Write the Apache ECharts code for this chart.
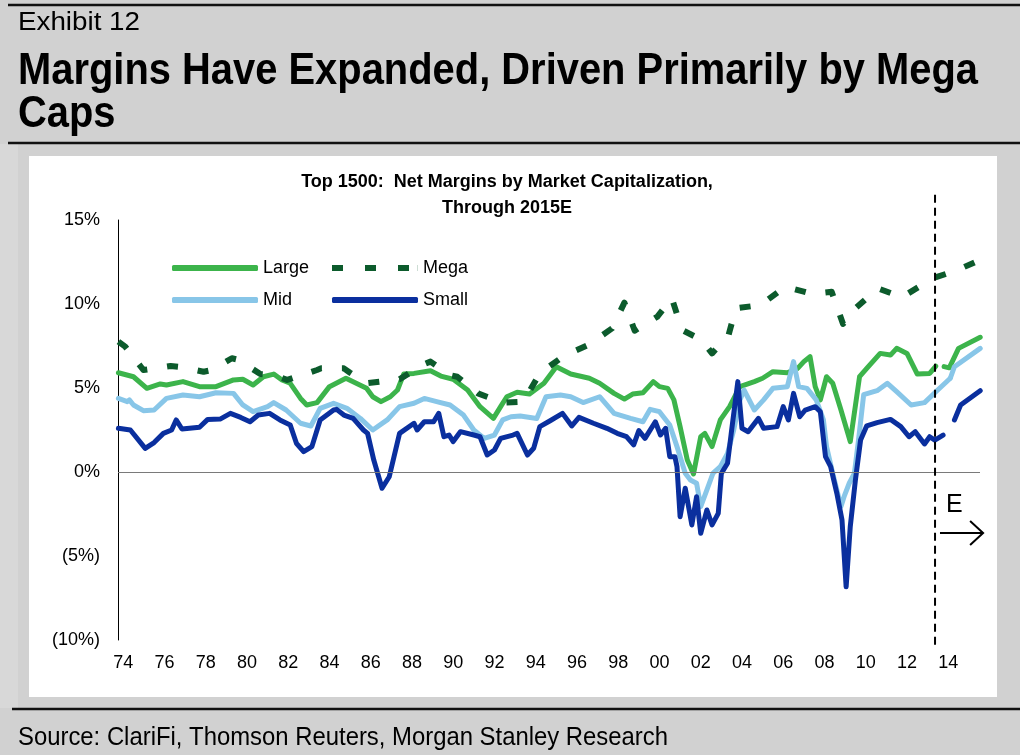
<!DOCTYPE html>
<html>
<head>
<meta charset="utf-8">
<script src="https://cdn.jsdelivr.net/npm/echarts@6/dist/echarts.min.js"></script>
<style>
html,body{margin:0;padding:0;background:#d1d1d1;}
#chart{width:1020px;height:755px;}
</style>
</head>
<body>
<div id="chart"></div>
<script>
// ---- data (year, % net margin) ----
const xTickYears = [1974,1976,1978,1980,1982,1984,1986,1988,1990,1992,1994,1996,1998,2000,2002,2004,2006,2008,2010,2012,2014];
const yTicks = [-10,-5,0,5,10,15];

const largeActual = [[1973.77,5.91],[1974.5,5.67],[1975.15,4.98],[1975.8,5.24],[1976.1,5.18],[1976.9,5.38],[1977.7,5.08],[1978.5,5.08],[1979.35,5.48],[1979.8,5.52],[1980.3,5.18],[1980.8,5.67],[1981.3,5.83],[1981.7,5.48],[1982.1,5.28],[1982.6,4.38],[1982.9,3.99],[1983.4,4.13],[1984.0,5.08],[1984.8,5.58],[1985.3,5.28],[1985.8,4.98],[1986.1,4.48],[1986.5,4.19],[1986.95,4.48],[1987.3,4.88],[1987.6,5.83],[1988.1,5.87],[1988.9,6.03],[1989.4,5.71],[1990.0,5.52],[1990.7,4.88],[1991.3,3.89],[1991.95,3.19],[1992.3,3.89],[1992.6,4.48],[1993.1,4.75],[1993.7,4.64],[1994.4,5.28],[1995.0,6.27],[1995.7,5.83],[1996.6,5.58],[1997.1,5.28],[1997.8,4.68],[1998.3,4.34],[1998.7,4.64],[1999.2,4.72],[1999.7,5.38],[2000.0,5.08],[2000.4,4.98],[2000.7,4.29],[2001.0,2.70],[2001.35,0.71],[2001.65,-0.12],[2002.0,2.10],[2002.2,2.30],[2002.55,1.51],[2002.95,3.10],[2003.4,3.89],[2003.9,5.08],[2004.6,5.38],[2005.0,5.58],[2005.5,5.97],[2006.2,5.91],[2006.7,6.17],[2007.0,6.57],[2007.3,6.87],[2007.55,5.08],[2007.8,4.29],[2008.1,5.67],[2008.4,5.28],[2008.8,3.69],[2009.25,1.81],[2009.7,5.67],[2010.05,6.17],[2010.7,7.06],[2011.2,6.96],[2011.5,7.36],[2012.0,7.06],[2012.5,5.83],[2013.1,5.87],[2013.4,6.3]];
const largeEstimate = [[2013.8,6.27],[2014.05,6.2],[2014.5,7.36],[2015.55,8.02]];

const midActual = [[1973.77,4.38],[1974.2,4.19],[1974.3,4.29],[1974.5,3.99],[1974.98,3.65],[1975.5,3.69],[1976.1,4.38],[1976.9,4.58],[1977.7,4.48],[1978.5,4.72],[1979.35,4.68],[1979.8,3.99],[1980.3,3.59],[1981.0,3.89],[1981.3,4.13],[1981.9,3.69],[1982.6,2.90],[1983.1,2.74],[1983.55,3.79],[1984.2,4.09],[1984.85,3.79],[1985.5,3.19],[1986.1,2.50],[1986.8,3.10],[1987.4,3.89],[1988.1,4.09],[1988.6,4.38],[1989.2,4.19],[1989.85,3.99],[1990.5,3.39],[1991.0,2.50],[1991.5,2.00],[1992.0,2.20],[1992.4,3.10],[1992.8,3.29],[1993.25,3.33],[1994.05,3.19],[1994.5,4.48],[1995.2,4.58],[1995.7,4.48],[1996.3,4.13],[1997.1,4.48],[1997.8,3.49],[1998.6,3.19],[1999.2,2.99],[1999.55,3.73],[2000.0,3.59],[2000.5,2.80],[2000.85,1.51],[2001.25,-0.08],[2001.5,-0.48],[2001.8,-0.67],[2002.0,-2.06],[2002.3,-1.07],[2002.6,-0.06],[2002.95,0.32],[2003.3,1.11],[2003.6,2.50],[2003.9,4.29],[2004.1,4.88],[2004.6,3.69],[2005.05,4.29],[2005.5,4.98],[2006.2,5.08],[2006.5,6.57],[2006.75,5.08],[2007.15,4.98],[2007.6,4.29],[2007.95,3.10],[2008.1,1.51],[2008.4,-0.08],[2008.8,-2.06],[2008.95,-1.47],[2009.2,-0.67],[2009.45,-0.08],[2009.65,1.9],[2009.9,4.6],[2010.55,4.84],[2011.05,5.28],[2011.5,4.78],[2012.2,3.99],[2012.85,4.13],[2013.4,4.78],[2014.1,5.58]];
const midEstimate = [[2014.1,5.58],[2014.3,6.27],[2015.55,7.36]];

const smallActual = [[1973.77,2.60],[1974.35,2.50],[1975.07,1.41],[1975.5,1.75],[1975.95,2.30],[1976.35,2.50],[1976.57,3.10],[1976.85,2.56],[1977.7,2.66],[1978.1,3.13],[1978.7,3.15],[1979.2,3.49],[1979.7,3.25],[1980.15,2.99],[1980.55,3.39],[1981.1,3.49],[1981.6,3.10],[1982.1,2.80],[1982.4,1.71],[1982.75,1.21],[1983.15,1.51],[1983.55,3.10],[1984.2,3.69],[1984.35,3.73],[1984.7,3.39],[1985.15,3.19],[1985.65,2.50],[1985.85,2.30],[1986.15,0.71],[1986.55,-0.97],[1986.9,-0.28],[1987.4,2.30],[1988.1,2.90],[1988.25,2.5],[1988.6,2.99],[1989.05,2.99],[1989.3,3.49],[1989.55,2.10],[1989.8,2.20],[1990.0,1.81],[1990.35,2.40],[1991.0,2.20],[1991.3,2.10],[1991.65,1.01],[1992.0,1.31],[1992.3,2.00],[1992.9,2.20],[1993.1,2.3],[1993.6,1.01],[1993.9,1.41],[1994.2,2.70],[1994.7,3.05],[1995.3,3.49],[1995.75,2.74],[1996.1,3.25],[1996.8,2.90],[1997.45,2.60],[1997.95,2.30],[1998.4,2.10],[1998.75,1.61],[1999.0,2.46],[1999.3,2.00],[1999.8,2.99],[2000.05,2.20],[2000.3,2.60],[2000.5,0.91],[2000.75,0.91],[2000.85,0.32],[2001.0,-2.66],[2001.25,-0.97],[2001.57,-3.15],[2001.8,-1.47],[2002.0,-3.65],[2002.3,-2.26],[2002.55,-3.15],[2002.85,-2.46],[2003.0,-0.08],[2003.3,0.52],[2003.5,2.50],[2003.8,5.38],[2004.0,2.60],[2004.3,2.40],[2004.8,3.19],[2005.05,2.60],[2005.7,2.70],[2006.0,3.89],[2006.25,3.10],[2006.5,4.68],[2006.8,3.29],[2007.07,3.69],[2007.55,3.89],[2007.8,3.59],[2008.05,0.91],[2008.3,0.32],[2008.6,-1.27],[2008.85,-2.86],[2009.05,-6.83],[2009.25,-3.25],[2009.5,-0.48],[2009.75,1.90],[2010.05,2.75],[2010.55,2.94],[2011.2,3.13],[2011.7,2.70],[2012.1,2.10],[2012.4,2.40],[2012.85,1.67],[2013.1,2.10],[2013.35,1.90],[2013.75,2.20]];
const smallEstimate = [[2014.3,3.10],[2014.6,3.99],[2015.55,4.84]];

const megaSeries = [[1973.77,7.76],[1974.1,7.46],[1974.98,6.07],[1976.3,6.31],[1976.8,6.25],[1977.9,5.97],[1978.3,6.07],[1979.27,6.77],[1979.6,6.67],[1980.65,5.83],[1981.3,5.77],[1981.95,5.48],[1983.4,6.07],[1983.6,6.17],[1984.7,6.17],[1985.0,5.91],[1985.8,5.28],[1987.1,5.48],[1987.4,5.52],[1988.5,6.37],[1988.9,6.57],[1989.85,5.77],[1990.2,5.67],[1991.2,4.68],[1992.4,4.13],[1993.4,4.19],[1994.2,5.87],[1995.35,6.90],[1996.55,7.56],[1997.7,8.55],[1998.3,10.08],[1998.8,8.41],[1999.9,9.25],[2000.6,10.34],[2001.1,8.45],[2002.05,7.86],[2002.55,7.06],[2003.35,8.15],[2003.7,9.74],[2004.9,9.94],[2006.1,11.03],[2007.4,10.60],[2008.35,10.73],[2008.9,8.81],[2009.5,9.74],[2010.6,10.93],[2011.75,10.40],[2013.25,11.53],[2014.4,12.0],[2015.5,12.6]];

// estimate divider and "E" arrow, in data units (year, %)
const estimateStart = 2013.36;
const dividerRange = [16.5, -10.3];
const arrowShaft = [[2013.6, -3.63], [2015.69, -3.63]];
const arrowHead = [[2015.06, -2.92], [2015.69, -3.63], [2015.06, -4.35]];

// ---- styling ----
const C_LARGE = '#3cb44b', C_MID = '#88c6e8', C_SMALL = '#0a2f9e', C_MEGA = '#0c5b2c';
const SANS = "'Liberation Sans',Arial,sans-serif";

// horizontal compression so the header text mimics the narrow face of the original
const measureCtx = document.createElement('canvas').getContext('2d');
function textWidth(text, font) { measureCtx.font = font; return measureCtx.measureText(text).width; }
function narrowText(id, text, font, x, y, scale) {
  return { type: 'text', id: id, x: x, y: y, scaleX: scale, scaleY: 1, originX: 0, originY: 0, z: 10,
    style: { text: text, font: font, fill: '#000', align: 'left', verticalAlign: 'middle' } };
}
const TITLE_FONT = 'bold 44px ' + SANS;
const TITLE_1 = 'Margins Have Expanded, Driven Primarily by Mega';
const titleScale = 960 / textWidth(TITLE_1, TITLE_FONT);
const EXH_FONT = '26px ' + SANS, SRC_FONT = '25px ' + SANS;
const SRC_TEXT = 'Source: ClariFi, Thomson Reuters, Morgan Stanley Research';

const chart = echarts.init(document.getElementById('chart'));

function lineSeries(name, data, color, extra) {
  return Object.assign({
    name: name, type: 'line', data: data, showSymbol: false, symbol: 'none',
    lineStyle: { color: color, width: 5, cap: 'round', join: 'round' },
    itemStyle: { color: color }, animation: false, z: 3
  }, extra || {});
}

const MEGA_ICON = 'path://M0,0h11v6h-11z M33,0h11v6h-11z M66,0h11v6h-11z M85.8,0h0.2v6h-0.2z';
function legendFor(name, left, top, icon) {
  return {
    data: [{ name: name, icon: icon }], left: left, top: top, padding: 0,
    itemWidth: 86, itemHeight: 6, selectedMode: false,
    textStyle: { fontSize: 18, fontFamily: SANS, color: '#000', lineHeight: 20, padding: [0, 0, 0, 0] }
  };
}

const option = {
  backgroundColor: '#d1d1d1',
  animation: false,
  grid: { left: 118, right: 40, top: 220, bottom: 115, containLabel: false },
  xAxis: {
    type: 'value', min: 1973.75, max: 2015.54,
    axisLine: { show: false, onZero: false }, axisTick: { show: false }, splitLine: { show: false },
    axisLabel: {
      customValues: xTickYears, margin: 14, color: '#000', fontSize: 18, fontFamily: SANS,
      formatter: v => String(Math.round(v) % 100).padStart(2, '0')
    }
  },
  yAxis: {
    type: 'value', min: yTicks[0], max: yTicks[yTicks.length - 1], interval: 5,
    axisLine: { show: true, onZero: false, lineStyle: { color: '#000', width: 1 } },
    axisTick: { show: false }, splitLine: { show: false },
    axisLabel: {
      margin: 18, color: '#000', fontSize: 18, fontFamily: SANS,
      formatter: v => v < 0 ? '(' + (-v) + '%)' : v + '%'
    }
  },
  legend: [
    legendFor('Large', 172, 258, 'roundRect'),
    legendFor('Mega', 332, 258, MEGA_ICON),
    legendFor('Mid', 172, 290, 'roundRect'),
    legendFor('Small', 332, 290, 'roundRect')
  ],
  graphic: [
    { type: 'rect', id: 'lband', z: -11, shape: { x: 0, y: 144, width: 18, height: 564 }, style: { fill: '#d8d8d8' } },
    { type: 'rect', id: 'panel', z: -10, shape: { x: 29, y: 156, width: 968, height: 541 }, style: { fill: '#ffffff' } },
    { type: 'line', id: 'l1', shape: { x1: 8, y1: 5, x2: 1020, y2: 5 }, style: { stroke: '#111', lineWidth: 2.5 } },
    { type: 'line', id: 'l2', shape: { x1: 8, y1: 143, x2: 1020, y2: 143 }, style: { stroke: '#111', lineWidth: 2.5 } },
    { type: 'line', id: 'l3', shape: { x1: 12, y1: 709, x2: 1020, y2: 709 }, style: { stroke: '#111', lineWidth: 2.5 } },
    narrowText('t0', 'Exhibit 12', EXH_FONT, 18, 23, 122 / textWidth('Exhibit 12', EXH_FONT)),
    narrowText('t1', TITLE_1, TITLE_FONT, 18, 72, titleScale),
    narrowText('t2', 'Caps', TITLE_FONT, 18, 115, titleScale),
    narrowText('t3', SRC_TEXT, SRC_FONT, 18, 738, 650 / textWidth(SRC_TEXT, SRC_FONT)),
    { type: 'text', id: 'st1', x: 507, y: 182, z: 10, style: { text: 'Top 1500:  Net Margins by Market Capitalization,', font: 'bold 18px ' + SANS, fill: '#000', align: 'center', verticalAlign: 'middle' } },
    { type: 'text', id: 'st2', x: 507, y: 208, z: 10, style: { text: 'Through 2015E', font: 'bold 18px ' + SANS, fill: '#000', align: 'center', verticalAlign: 'middle' } },
    { type: 'text', id: 'E', x: 946, y: 505, z: 10, style: { text: 'E', font: '25px ' + SANS, fill: '#000', align: 'left', verticalAlign: 'middle' } }
  ],
  series: [
    lineSeries('Mega', megaSeries, C_MEGA, {
      lineStyle: { color: C_MEGA, width: 6, type: [11, 20], cap: 'butt', join: 'round' }, z: 2
    }),
    lineSeries('Large', largeActual, C_LARGE, {
      markLine: {
        silent: true, symbol: 'none', animation: false,
        label: { show: false },
        lineStyle: { color: '#7a7a7a', width: 1, type: 'solid' },
        data: [{ yAxis: 0 }]
      }, z: 1
    }),
    lineSeries('Large', largeEstimate, C_LARGE),
    lineSeries('Mid', midActual, C_MID),
    lineSeries('Mid', midEstimate, C_MID),
    lineSeries('Small', smallActual, C_SMALL),
    lineSeries('Small', smallEstimate, C_SMALL)
  ]
};
chart.setOption(option);

// divider and arrow placed through the chart's own scales
const px = p => chart.convertToPixel({ gridIndex: 0 }, p);
const dTop = px([estimateStart, dividerRange[0]]);
const dBot = px([estimateStart, dividerRange[1]]);
const s0 = px(arrowShaft[0]), s1 = px(arrowShaft[1]);
chart.setOption({
  graphic: [
    { type: 'line', id: 'divider', z: 20, shape: { x1: dTop[0], y1: dTop[1], x2: dBot[0], y2: dBot[1] },
      style: { stroke: '#000', lineWidth: 2, lineDash: [8, 5] } },
    { type: 'line', id: 'shaft', z: 20, shape: { x1: s0[0], y1: s0[1], x2: s1[0], y2: s1[1] },
      style: { stroke: '#000', lineWidth: 2 } },
    { type: 'polyline', id: 'head', z: 20, shape: { points: arrowHead.map(px) },
      style: { stroke: '#000', lineWidth: 2, fill: null } }
  ]
});
</script>
</body>
</html>
